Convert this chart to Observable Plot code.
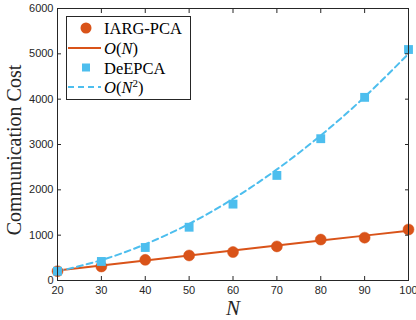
<!DOCTYPE html>
<html>
<head>
<meta charset="utf-8">
<script src="https://cdn.jsdelivr.net/npm/d3@7"></script>
<script src="https://cdn.jsdelivr.net/npm/@observablehq/plot@0.6"></script>
<style>
  html, body { margin: 0; padding: 0; background: #fff; }
  #chart { width: 416px; height: 320px; }
</style>
</head>
<body>
<div id="chart"></div>
<script>
const N = [20, 30, 40, 50, 60, 70, 80, 90, 100];
const iargPca = [205, 309, 455, 552, 628, 752, 903, 945, 1125];
const deEpca = [205, 420, 728, 1175, 1685, 2318, 3128, 4040, 5095];
const fitLinear = [220, 330, 440, 550, 660, 770, 880, 990, 1100];
const fitQuad = [200, 450, 800, 1250, 1800, 2450, 3200, 4050, 5000];
const xTicks = [20, 30, 40, 50, 60, 70, 80, 90, 100];
const yTicks = [0, 1000, 2000, 3000, 4000, 5000, 6000];
const legendLabels = ["IARG-PCA", "O(N)", "DeEPCA", "O(N²)"];

const orange = "#D95319";
const blue = "#4DBEEE";
const axisColor = "#262626";

const rows = N.map((n, i) => ({n, iarg: iargPca[i], de: deEpca[i], lin: fitLinear[i], quad: fitQuad[i]}));
const fmt = d3.format("d");

const plot = Plot.plot({
  width: 416,
  height: 320,
  marginLeft: 57,
  marginRight: 8,
  marginTop: 8,
  marginBottom: 40,
  style: {fontFamily: "'Liberation Sans', Arial, sans-serif", fontSize: "11px", color: axisColor, background: "#fff"},
  x: {domain: [20, 100], ticks: xTicks, label: null},
  y: {domain: [0, 6000], ticks: yTicks, label: null},
  marks: [
    Plot.lineY(rows, {x: "n", y: "lin", stroke: orange, strokeWidth: 2, curve: "linear"}),
    Plot.lineY(rows, {x: "n", y: "quad", stroke: blue, strokeWidth: 2, strokeDasharray: "6,4", curve: "natural"}),
    Plot.dot(rows, {x: "n", y: "iarg", r: 5.5, fill: orange, stroke: orange, strokeWidth: 0.5}),
    Plot.dot(rows, {x: "n", y: "de", symbol: "square", r: 5, fill: blue}),
    Plot.frame({stroke: axisColor, strokeWidth: 1}),
    Plot.axisX({anchor: "bottom", ticks: xTicks, tickSize: -4, tickPadding: 10, tickFormat: fmt, stroke: axisColor, fill: axisColor, label: null}),
    Plot.axisX({anchor: "top", ticks: xTicks, tickSize: -4, tickFormat: () => "", stroke: axisColor, label: null}),
    Plot.axisY({anchor: "left", ticks: yTicks, tickSize: -4, tickPadding: 8, tickFormat: fmt, stroke: axisColor, fill: axisColor, label: null}),
    Plot.axisY({anchor: "right", ticks: yTicks, tickSize: -4, tickFormat: () => "", stroke: axisColor, label: null})
  ]
});

document.getElementById("chart").appendChild(plot);

const svg = d3.select(plot);
const serif = "'Liberation Serif', 'Times New Roman', serif";
// axis titles
svg.append("text")
  .attr("transform", "translate(21,150) rotate(-90)")
  .attr("text-anchor", "middle")
  .style("text-anchor", "middle")
  .attr("font-family", serif)
  .attr("font-size", 20)
  .attr("fill", axisColor)
  .text("Communication Cost");
svg.append("text")
  .attr("x", 233).attr("y", 315)
  .attr("text-anchor", "middle")
  .style("text-anchor", "middle")
  .attr("font-family", serif)
  .attr("font-style", "italic")
  .attr("font-size", 21)
  .attr("fill", axisColor)
  .text("N");

// legend
const lg = svg.append("g")
  .attr("font-family", serif)
  .attr("font-size", 16.5)
  .attr("text-anchor", "start")
  .style("text-anchor", "start")
  .attr("fill", "#000");
lg.append("rect")
  .attr("x", 66.5).attr("y", 16.5).attr("width", 124).attr("height", 83)
  .style("fill", "#ffffff").style("stroke", axisColor).style("stroke-width", "1px");
const rowY = [28, 48, 67.5, 87];
lg.append("circle").attr("cx", 86).attr("cy", rowY[0]).attr("r", 5.5).style("fill", orange);
lg.append("line").attr("x1", 68).attr("x2", 101).attr("y1", rowY[1]).attr("y2", rowY[1]).style("stroke", orange).style("stroke-width", "2px");
lg.append("rect").attr("x", 82).attr("y", rowY[2] - 4).attr("width", 8).attr("height", 8).style("fill", blue);
lg.append("line").attr("x1", 68).attr("x2", 101).attr("y1", rowY[3]).attr("y2", rowY[3]).style("stroke", blue).style("stroke-width", "2px").style("stroke-dasharray", "6,4");

function addText(y, parts) {
  const t = lg.append("text").attr("x", 104).attr("y", y + 6).style("text-anchor", "start");
  parts.forEach(p => {
    const s = t.append("tspan").text(p.t);
    if (p.i) s.attr("font-style", "italic");
    if (p.sup) s.attr("font-size", 11).attr("dy", -6);
    if (p.down) s.attr("dy", 6);
  });
}
addText(rowY[0], [{t: legendLabels[0]}]);
addText(rowY[1], [{t: "O", i: true}, {t: "("}, {t: "N", i: true}, {t: ")"}]);
addText(rowY[2], [{t: legendLabels[2]}]);
addText(rowY[3], [{t: "O", i: true}, {t: "("}, {t: "N", i: true}, {t: "2", sup: true}, {t: ")", down: true}]);
</script>
</body>
</html>
